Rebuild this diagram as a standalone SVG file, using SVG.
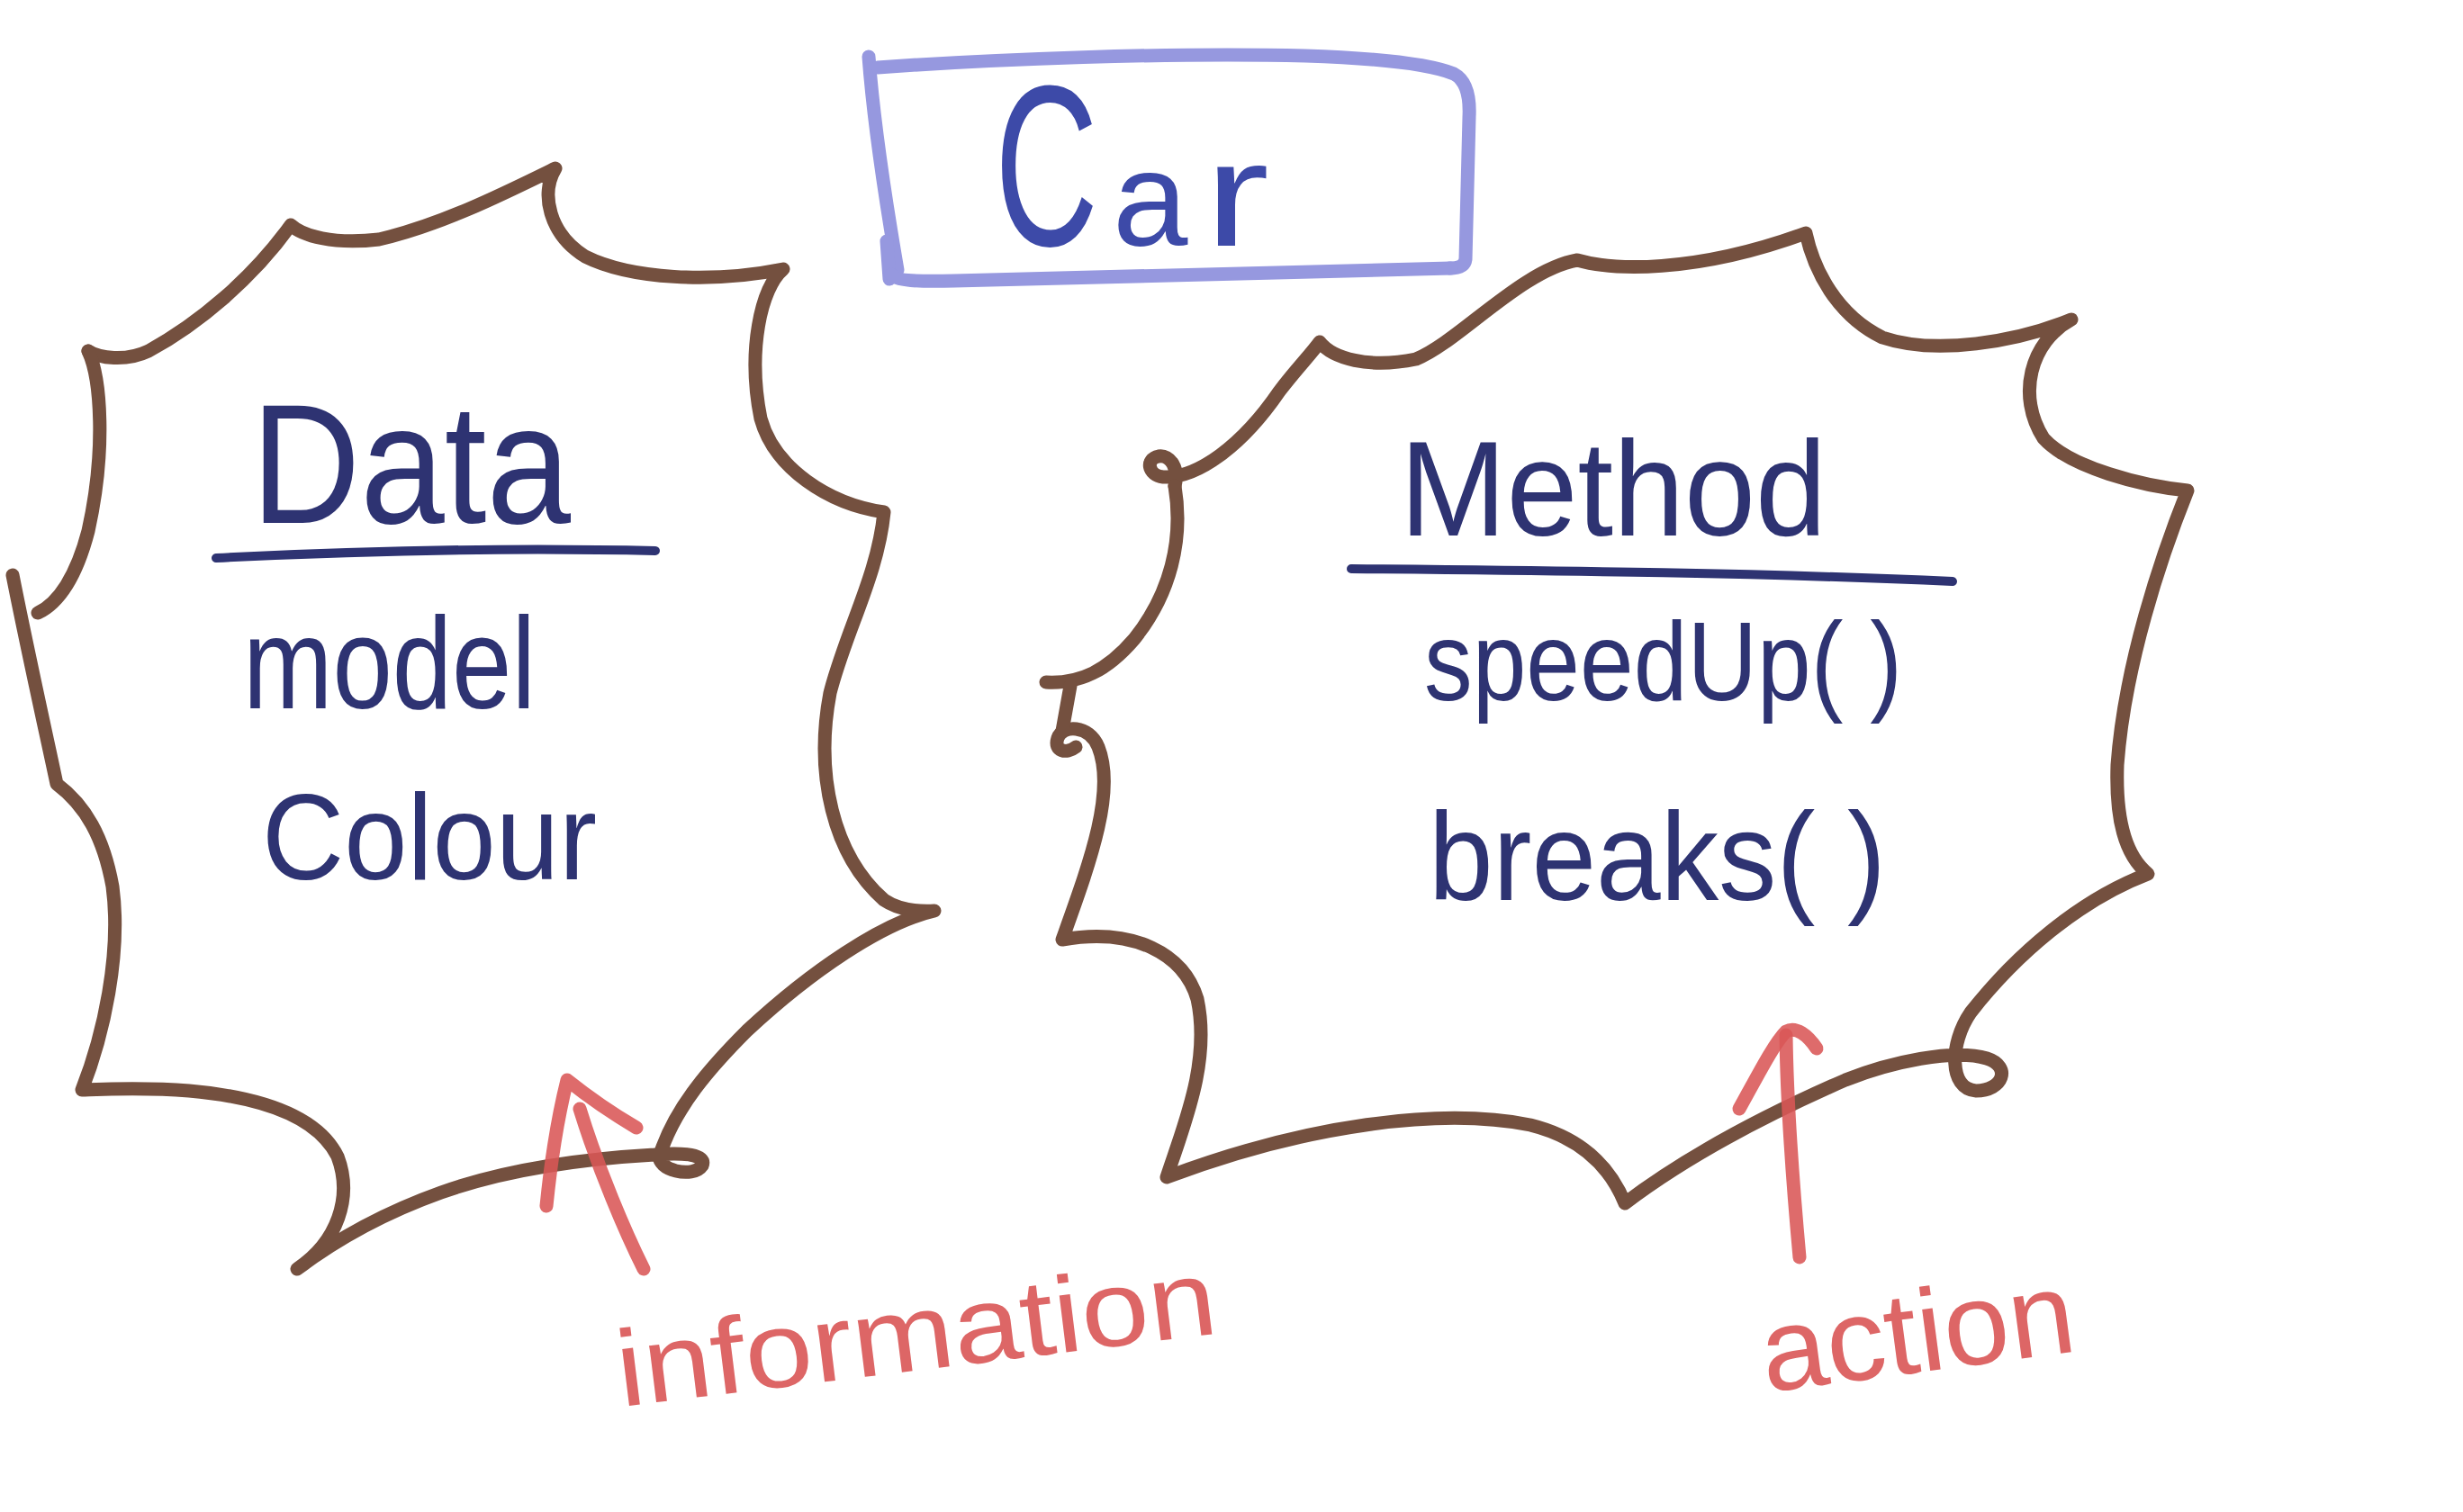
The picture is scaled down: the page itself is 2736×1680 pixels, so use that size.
<svg xmlns="http://www.w3.org/2000/svg" width="2736" height="1680" viewBox="0 0 2736 1680">
<style>
.blob{fill:none;stroke:#74503f;stroke-width:15;stroke-linecap:round;stroke-linejoin:round}
.box{fill:none;stroke:#9698df;stroke-width:15;stroke-linecap:round;stroke-linejoin:round}
.ink{fill:#2e3372;font-family:"Liberation Sans",Arial,sans-serif}
.rule{fill:none;stroke:#2e3372;stroke-width:10;stroke-linecap:round}
.red{fill:none;stroke:#da5656;stroke-width:15;stroke-linecap:round;stroke-linejoin:round;opacity:0.88}
.redtext{fill:#da5656;opacity:0.9;font-family:"Liberation Sans",Arial,sans-serif}
</style>
<rect width="2736" height="1680" fill="#ffffff"/>

<g id="car">
<path class="box" d="M965,63 C970,130 985,230 997,300"/>
<path class="box" d="M985,268 L988,310"/>
<path class="box" d="M975,75 C1100,66 1300,58 1450,62 C1540,65 1590,72 1615,82 C1630,90 1633,110 1632,130 L1628,288 C1627,296 1620,298 1610,298"/>
<path class="box" d="M1612,298 C1400,302 1200,308 1060,312 C1020,313 995,312 990,305"/>
<text class="ink" y="273" style="fill:#3d4aa8"><tspan x="1105" font-size="255" textLength="115" lengthAdjust="spacingAndGlyphs">C</tspan><tspan x="1236" font-size="150">a</tspan><tspan x="1338" font-size="165" textLength="72" lengthAdjust="spacingAndGlyphs">r</tspan></text>
</g>

<g id="data">
<path class="blob" d="M98,390 C110,398 140,402 165,390 C220,360 280,310 323,250 C336,262 370,272 421,266 C490,250 560,215 617,187 C600,215 610,260 650,285 C700,310 790,315 870,299 C845,320 830,390 845,465 C860,520 920,560 982,569 C975,640 940,700 922,770 C905,860 925,950 982,1000 C1000,1012 1020,1013 1038,1012 C980,1025 900,1080 830,1145 C790,1185 750,1230 733,1283 C728,1300 770,1310 780,1295 C785,1283 760,1280 727,1283 C640,1288 560,1300 490,1325 C420,1350 370,1380 330,1410 C375,1380 392,1330 375,1285 C355,1245 300,1220 210,1212 C160,1208 120,1210 91,1211 C115,1150 135,1060 125,985 C115,930 95,895 63,871 C50,810 30,720 14,639"/>
<path class="blob" d="M98,390 C112,420 118,500 98,590 C85,640 65,670 42,681"/>
<text class="ink" x="279" y="581" font-size="190" textLength="355" lengthAdjust="spacingAndGlyphs">Data</text>
<path class="rule" d="M240,620 C400,612 560,608 728,612"/>
<text class="ink" x="270" y="787" font-size="145" textLength="325" lengthAdjust="spacingAndGlyphs">model</text>
<text class="ink" x="291" y="977" font-size="135" textLength="372" lengthAdjust="spacingAndGlyphs">Colour</text>
</g>

<g id="method">
<path class="blob" d="M1305,540 C1310,520 1300,505 1287,507 C1272,510 1275,528 1292,530 C1330,532 1380,495 1421,435 C1440,410 1455,395 1466,380 C1480,398 1520,410 1573,399 C1620,380 1690,300 1752,289 C1790,300 1880,305 2006,259 C2015,300 2040,350 2091,375 C2150,395 2240,380 2301,355 C2255,380 2240,440 2270,487 C2300,520 2380,540 2430,545 C2400,620 2360,740 2352,850 C2350,910 2360,950 2386,971 C2310,1000 2240,1060 2189,1125 C2165,1160 2165,1210 2195,1212 C2225,1212 2235,1185 2207,1176 C2170,1165 2100,1180 2050,1200 C1970,1235 1880,1280 1805,1337 C1790,1300 1760,1265 1700,1250 C1600,1230 1450,1250 1296,1308 C1315,1250 1345,1180 1330,1110 C1315,1060 1260,1030 1180,1044 C1210,960 1240,880 1220,830 C1210,805 1180,805 1175,820 C1170,835 1185,838 1195,830"/>
<path class="blob" d="M1305,540 C1315,600 1300,660 1260,710 C1230,745 1200,760 1162,758"/>
<path class="blob" d="M1189,762 L1180,812"/>
<text class="ink" x="1555" y="595" font-size="150" textLength="474" lengthAdjust="spacingAndGlyphs">Method</text>
<path class="rule" d="M1501,632 C1700,634 1950,636 2169,646"/>
<text class="ink" x="1582" y="778" font-size="125" textLength="531" lengthAdjust="spacingAndGlyphs">speedUp( )</text>
<text class="ink" x="1587" y="1000" font-size="140" textLength="508" lengthAdjust="spacingAndGlyphs">breaks( )</text>
</g>

<g id="connectors">
<path class="red" d="M607,1340 C612,1290 620,1240 630,1200 C655,1220 685,1240 707,1253"/>
<path class="red" d="M644,1232 C665,1300 695,1370 715,1410"/>
<path class="red" d="M1999,1397 C1992,1320 1985,1230 1984,1150"/>
<path class="red" d="M1932,1232 C1950,1200 1970,1160 1984,1146 C1995,1140 2008,1150 2018,1165"/>
</g>

<g id="information-label">
<text class="redtext" x="690" y="1563" font-size="120" textLength="670" lengthAdjust="spacingAndGlyphs" transform="rotate(-7 690 1563)">information</text>
</g>

<g id="action-label">
<text class="redtext" x="1962" y="1547" font-size="130" textLength="350" lengthAdjust="spacingAndGlyphs" transform="rotate(-7.5 1962 1547)">action</text>
</g>
</svg>
